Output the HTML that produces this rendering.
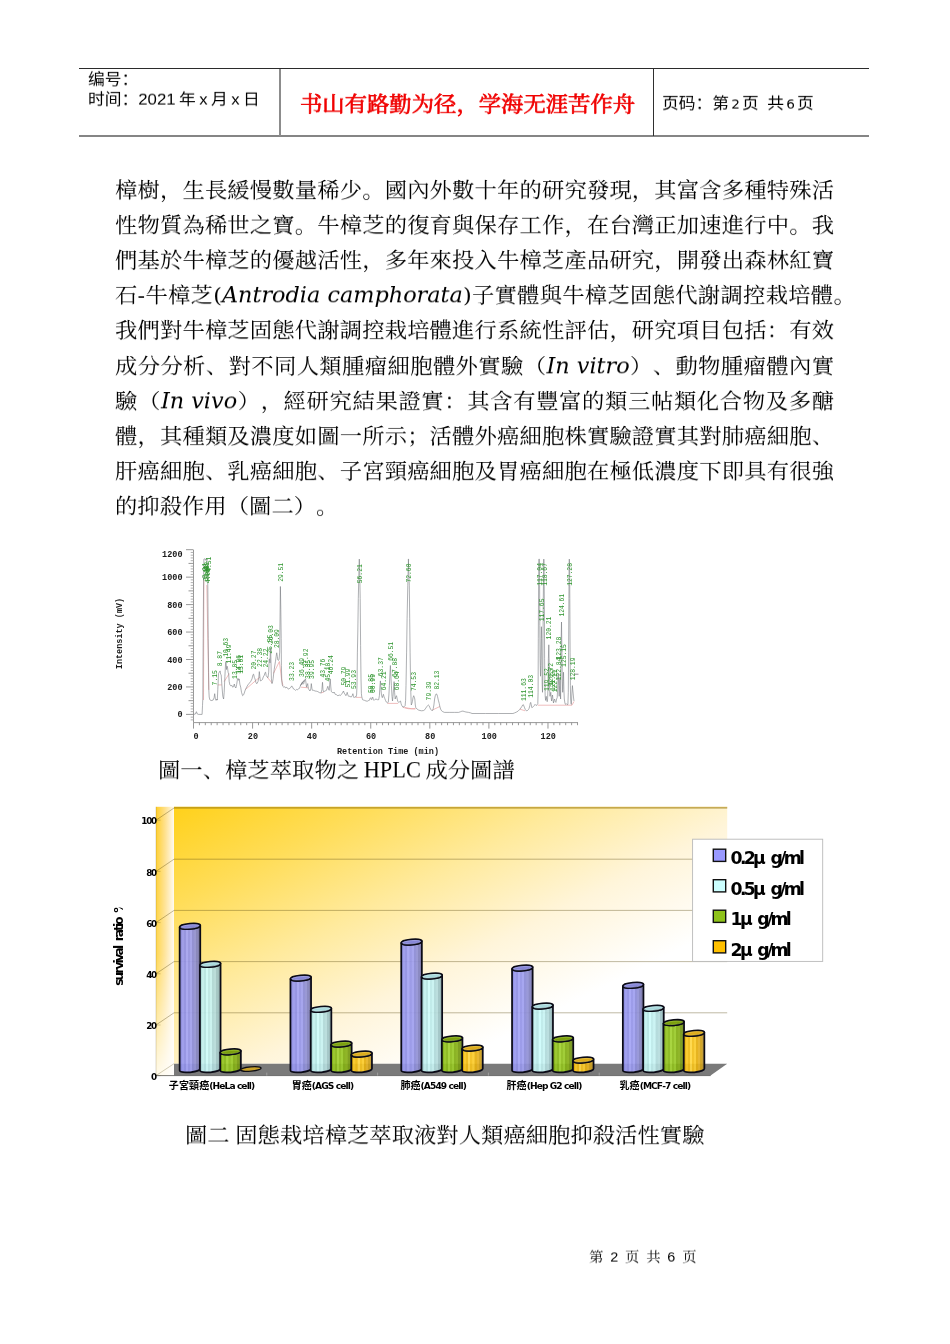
<!DOCTYPE html>
<html lang="zh">
<head>
<meta charset="utf-8">
<title>第2页</title>
<style>
html,body{margin:0;padding:0;background:#fff;}
body{width:950px;height:1344px;position:relative;overflow:hidden;color:#000;text-spacing-trim:space-all;font-kerning:none;
  font-family:"Liberation Serif","Noto Serif CJK SC",serif;}
.abs{position:absolute;white-space:nowrap;transform:scaleY(0.91);transform-origin:50% 50%;}
.hl{position:absolute;background:#000;}
.hd{font-family:"Liberation Sans","Noto Sans CJK SC",sans-serif;font-size:16.76px;line-height:18px;}
.red{font-family:"Liberation Serif","Noto Serif CJK SC",serif;font-weight:normal;color:#f00000;-webkit-text-stroke:0.75px #f00000;font-size:22.35px;line-height:30px;}
.ln{position:absolute;left:115px;width:719px;height:35px;line-height:35px;font-size:22.35px;
  font-family:"DejaVu Serif","Noto Serif CJK SC",serif;white-space:nowrap;text-align:justify;text-align-last:justify;transform:scaleY(0.91);transform-origin:50% 50%;}
.ln i{font-family:"DejaVu Serif",serif;font-style:italic;display:inline-block;transform:scaleY(1.099);transform-origin:50% 78%;}
.ln,.abs{will-change:transform;}
.dg{font-family:"DejaVu Sans",sans-serif;font-size:13.6px;margin:0 2.1px 0 2.3px;}
.cap{font-family:"Liberation Serif","Noto Serif CJK SC",serif;}
</style>
</head>
<body>
<!-- header -->
<div class="hl" style="left:79px;top:68px;width:790px;height:1px;background:#2b2b2b;"></div>
<div class="hl" style="left:79px;top:135px;width:790px;height:2px;background:#858585;"></div>
<div class="hl" style="left:279px;top:69px;width:2px;height:67px;background:#8c8c8c;"></div>
<div class="hl" style="left:653px;top:69px;width:1px;height:67px;background:#2f2f2f;"></div>
<div class="abs hd" style="left:88px;top:71px;">编号：</div>
<div class="abs hd" style="left:88px;top:90.7px;word-spacing:-1.2px;">时间：2021 年 x 月 x 日</div>
<div class="abs red" style="left:299.8px;top:90px;">书山有路勤为径，学海无涯苦作舟</div>
<div class="abs hd" style="left:662px;top:95px;">页码：第<span class="dg">2</span>页<span style="display:inline-block;width:8.3px"></span>共<span class="dg">6</span>页</div>

<!-- body text -->
<div class="ln" style="top:173.00px;">樟樹，生長緩慢數量稀少。國內外數十年的研究發現，其富含多種特殊活</div>
<div class="ln" style="top:208.12px;">性物質為稀世之寶。牛樟芝的復育與保存工作，在台灣正加速進行中。我</div>
<div class="ln" style="top:243.24px;">們基於牛樟芝的優越活性，多年來投入牛樟芝產品研究，開發出森林紅寶</div>
<div class="ln" style="top:278.36px;width:740.8px;">石-牛樟芝(<i>Antrodia camphorata</i>)子實體與牛樟芝固態代謝調控栽培體。</div>
<div class="ln" style="top:313.48px;">我們對牛樟芝固態代謝調控栽培體進行系統性評估，研究項目包括：有效</div>
<div class="ln" style="top:348.60px;">成分分析、對不同人類腫瘤細胞體外實驗（<i>In vitro</i>）、動物腫瘤體內實</div>
<div class="ln" style="top:383.72px;">驗（<i>In vivo</i>），經研究結果證實：其含有豐富的類三帖類化合物及多醣</div>
<div class="ln" style="top:418.84px;">體，其種類及濃度如圖一所示；活體外癌細胞株實驗證實其對肺癌細胞、</div>
<div class="ln" style="top:453.96px;">肝癌細胞、乳癌細胞、子宮頸癌細胞及胃癌細胞在極低濃度下即具有很強</div>
<div class="ln" style="top:489.08px;text-align-last:left;">的抑殺作用（圖二）。</div>

<!-- CHART1 -->
<svg class="abs0" style="position:absolute;left:100px;top:540px;will-change:transform;" width="500" height="220" viewBox="100 540 500 220">
<g stroke="#8c8c8c" stroke-width="0.9" fill="none" shape-rendering="auto">
<path d="M193.5 550 V722.6 H578"/>
<path d="M193.5 714.40h-7.5M193.5 700.67h-5.0M193.5 686.95h-7.5M193.5 673.23h-5.0M193.5 659.50h-7.5M193.5 645.77h-5.0M193.5 632.05h-7.5M193.5 618.32h-5.0M193.5 604.60h-7.5M193.5 590.88h-5.0M193.5 577.15h-7.5M193.5 563.42h-5.0M193.5 549.70h-7.5"/>
<path d="M193.5 719.89h-2.8M193.5 717.14h-2.8M193.5 711.65h-2.8M193.5 708.91h-2.8M193.5 706.16h-2.8M193.5 703.42h-2.8M193.5 697.93h-2.8M193.5 695.18h-2.8M193.5 692.44h-2.8M193.5 689.69h-2.8M193.5 684.20h-2.8M193.5 681.46h-2.8M193.5 678.71h-2.8M193.5 675.97h-2.8M193.5 670.48h-2.8M193.5 667.74h-2.8M193.5 664.99h-2.8M193.5 662.25h-2.8M193.5 656.75h-2.8M193.5 654.01h-2.8M193.5 651.26h-2.8M193.5 648.52h-2.8M193.5 643.03h-2.8M193.5 640.28h-2.8M193.5 637.54h-2.8M193.5 634.79h-2.8M193.5 629.30h-2.8M193.5 626.56h-2.8M193.5 623.81h-2.8M193.5 621.07h-2.8M193.5 615.58h-2.8M193.5 612.83h-2.8M193.5 610.09h-2.8M193.5 607.35h-2.8M193.5 601.86h-2.8M193.5 599.11h-2.8M193.5 596.37h-2.8M193.5 593.62h-2.8M193.5 588.13h-2.8M193.5 585.38h-2.8M193.5 582.64h-2.8M193.5 579.89h-2.8M193.5 574.40h-2.8M193.5 571.66h-2.8M193.5 568.91h-2.8M193.5 566.17h-2.8M193.5 560.68h-2.8M193.5 557.93h-2.8M193.5 555.19h-2.8M193.5 552.44h-2.8" stroke="#a6a6a6"/>
<path d="M193.50 722.6v6.0M199.41 722.6v2.6M205.32 722.6v2.6M211.22 722.6v2.6M217.13 722.6v2.6M223.04 722.6v2.6M228.95 722.6v2.6M234.86 722.6v2.6M240.76 722.6v2.6M246.67 722.6v2.6M252.58 722.6v6.0M258.49 722.6v2.6M264.40 722.6v2.6M270.30 722.6v2.6M276.21 722.6v2.6M282.12 722.6v2.6M288.03 722.6v2.6M293.94 722.6v2.6M299.84 722.6v2.6M305.75 722.6v2.6M311.66 722.6v6.0M317.57 722.6v2.6M323.48 722.6v2.6M329.38 722.6v2.6M335.29 722.6v2.6M341.20 722.6v2.6M347.11 722.6v2.6M353.02 722.6v2.6M358.92 722.6v2.6M364.83 722.6v2.6M370.74 722.6v6.0M376.65 722.6v2.6M382.56 722.6v2.6M388.46 722.6v2.6M394.37 722.6v2.6M400.28 722.6v2.6M406.19 722.6v2.6M412.10 722.6v2.6M418.00 722.6v2.6M423.91 722.6v2.6M429.82 722.6v6.0M435.73 722.6v2.6M441.64 722.6v2.6M447.54 722.6v2.6M453.45 722.6v2.6M459.36 722.6v2.6M465.27 722.6v2.6M471.18 722.6v2.6M477.08 722.6v2.6M482.99 722.6v2.6M488.90 722.6v6.0M494.81 722.6v2.6M500.72 722.6v2.6M506.62 722.6v2.6M512.53 722.6v2.6M518.44 722.6v2.6M524.35 722.6v2.6M530.26 722.6v2.6M536.16 722.6v2.6M542.07 722.6v2.6M547.98 722.6v6.0M553.89 722.6v2.6M559.80 722.6v2.6M565.70 722.6v2.6M571.61 722.6v2.6M577.52 722.6v2.6"/>
</g>
<g stroke="#eaa0a0" stroke-width="0.7" fill="none">
<polyline points="203.5,700.0 203.9,580.0"/>
<polyline points="206.8,585.0 208.8,690.0"/>
<polyline points="217.8,684.9 221.8,684.9"/>
<polyline points="224.2,681.6 229.2,673.6"/>
<polyline points="245.3,689.6 256.0,680.3 260.0,676.9"/>
<polyline points="267.0,676.9 272.0,682.9"/>
<polyline points="273.4,673.6 279.4,661.5 281.7,680.3 283.0,685.6"/>
<polyline points="301.0,687.2 308.4,687.8"/>
<polyline points="321.1,693.0 323.8,692.0"/>
<polyline points="355.9,697.4 361.6,697.4"/>
<polyline points="387.4,703.4 398.1,703.4"/>
<polyline points="402.8,707.3 408.2,708.7 415.0,708.9"/>
<polyline points="405.0,707.6 411.3,708.7 415.7,708.7"/>
<polyline points="432.5,710.0 440.1,706.4"/>
<polyline points="519.7,709.1 525.1,710.8"/>
<polyline points="537.8,705.2 572.0,705.2 574.0,701.4"/>
</g>
<polyline fill="none" stroke="#777b80" stroke-width="0.6" stroke-linejoin="round" points="193.7,714.4 195.4,714.0 196.4,711.7 197.3,714.0 198.4,714.4 202.1,714.4 202.5,705.7 202.8,699.0 203.2,638.7 203.6,578.5 203.9,559.1 205.1,558.8 205.9,560.4 206.4,558.8 207.2,561.1 207.8,585.2 208.2,638.7 208.6,672.2 208.8,689.6 209.2,697.0 209.8,699.7 211.1,700.6 213.1,700.1 214.1,697.7 214.7,693.7 215.4,699.0 216.1,700.4 216.9,699.0 217.3,700.1 217.8,689.6 218.5,673.6 219.3,672.2 220.1,670.9 220.6,674.2 221.2,674.9 221.8,684.3 222.8,696.3 223.6,699.0 224.2,692.3 224.9,676.2 225.6,662.9 226.0,661.5 226.5,669.5 227.1,666.2 227.6,668.2 228.1,672.2 228.7,674.2 229.2,681.6 229.9,684.9 230.8,685.9 231.9,685.4 232.7,687.2 233.5,686.7 234.3,684.0 235.0,687.0 235.9,688.0 236.7,684.3 237.5,678.9 238.0,678.3 238.6,680.3 239.2,678.9 239.9,684.3 240.7,687.2 241.5,692.3 242.6,695.7 243.7,694.7 245.3,689.9 246.6,687.2 247.9,684.9 249.3,683.2 250.6,681.6 252.0,678.9 253.0,674.6 253.6,674.2 254.4,677.6 255.0,678.9 256.0,682.9 256.9,683.7 258.0,681.6 258.8,677.6 259.3,671.6 259.9,676.9 260.4,680.9 261.3,680.5 262.4,679.6 263.3,676.9 264.3,675.2 265.1,672.5 265.6,672.2 266.2,675.6 267.0,676.9 268.0,677.6 268.7,672.2 269.2,659.5 269.6,658.8 270.0,662.9 270.3,652.1 270.6,648.1 271.0,662.9 271.4,678.9 272.0,683.6 272.6,681.6 273.1,678.9 273.7,673.6 274.2,669.5 274.9,664.9 275.5,661.2 276.1,656.8 276.7,652.8 277.3,656.2 277.8,659.9 278.5,660.4 279.1,659.1 279.7,652.1 280.1,612.0 280.4,586.5 280.8,609.3 281.2,638.7 281.4,665.5 281.7,678.9 282.2,684.3 282.8,686.3 283.8,687.2 284.8,686.7 285.7,688.0 286.8,687.2 287.9,688.8 288.8,689.1 289.9,688.0 290.8,687.5 291.7,685.9 292.5,687.0 293.5,689.0 294.5,689.4 295.5,690.4 296.6,689.4 297.5,689.9 298.6,688.6 299.5,688.3 300.4,685.9 301.2,684.3 302.0,682.9 302.9,681.6 303.7,682.1 304.2,680.3 300.4,685.6 301.0,684.9 301.7,683.2 302.4,682.3 303.0,684.3 303.7,683.6 304.4,680.9 305.4,678.9 306.0,682.9 306.5,687.2 307.2,684.9 307.7,683.6 308.3,688.3 309.1,689.9 310.0,691.0 310.8,689.0 311.3,683.6 311.9,688.3 312.4,690.3 313.7,690.4 315.1,691.0 316.4,691.2 317.8,691.6 319.4,692.6 321.1,693.0 321.9,689.6 322.5,682.3 323.0,689.6 323.5,691.8 325.1,691.0 326.5,690.3 327.1,688.3 327.8,686.3 328.5,689.0 329.2,690.3 329.7,684.3 330.2,678.9 330.8,687.0 331.3,691.6 332.2,692.3 333.2,693.0 334.1,692.0 335.2,694.3 336.5,694.7 337.9,695.8 339.2,695.0 340.3,695.5 341.2,694.7 342.4,693.0 343.5,691.0 344.1,693.0 344.8,693.9 345.9,695.7 346.7,693.7 347.2,692.3 347.9,695.0 348.6,696.3 349.9,696.3 351.2,697.1 352.2,695.7 352.9,693.7 353.5,696.6 354.1,697.7 355.0,696.6 355.9,697.1 356.6,695.0 357.0,685.6 357.4,652.1 357.8,632.0 358.3,598.6 358.9,571.8 359.3,559.1 359.7,571.8 360.2,598.6 360.6,645.4 361.0,678.9 361.4,693.7 361.8,697.0 362.6,699.7 363.6,700.1 364.6,700.4 366.0,701.0 367.3,701.2 368.4,700.6 369.3,700.4 370.1,698.3 370.7,697.7 371.2,699.3 371.7,699.7 372.3,697.7 372.7,697.0 373.3,699.3 374.0,700.4 375.1,699.3 376.0,699.0 377.4,699.7 378.7,699.7 379.4,695.7 379.9,687.0 380.4,680.9 381.0,689.6 381.5,695.3 382.3,697.7 382.9,695.7 383.4,694.3 384.1,697.0 384.7,698.3 385.5,700.4 386.3,702.0 387.4,703.0 388.3,702.0 388.9,695.0 389.4,685.6 390.0,672.2 390.4,665.5 390.9,676.2 391.4,685.6 392.0,696.3 392.5,701.0 393.0,696.3 393.6,688.3 394.1,681.6 394.6,692.3 395.2,699.0 395.8,697.0 396.5,695.7 397.2,699.0 397.9,701.7 398.8,702.4 399.7,701.7 400.5,701.0 401.1,703.7 401.6,705.2 402.8,707.0 404.1,706.8 405.1,705.7 405.6,700.4 406.0,685.6 406.6,652.1 407.1,618.7 407.8,585.2 408.2,569.1 408.6,559.1 408.3,559.1 408.7,569.1 409.3,585.2 409.7,618.7 410.1,652.1 410.5,678.9 410.8,692.3 411.3,705.0 411.8,703.7 412.4,701.7 413.0,697.7 413.7,695.7 414.2,697.0 414.8,699.0 415.3,705.0 415.8,707.7 417.1,709.1 418.4,710.0 420.0,710.5 421.7,710.8 423.7,710.5 424.8,709.7 425.8,708.1 426.7,706.8 427.8,705.4 428.4,705.0 429.1,705.7 429.9,707.7 430.7,709.5 431.8,710.4 432.6,710.5 433.3,708.4 433.9,705.0 434.6,699.0 435.3,695.7 436.1,693.9 436.9,694.3 437.5,696.3 438.3,700.1 439.2,703.3 439.8,706.4 440.6,709.1 441.6,710.8 442.8,711.7 444.5,712.4 449.2,712.4 454.6,712.4 458.6,712.4 460.6,711.7 461.9,711.2 463.0,711.1 464.2,711.5 465.9,712.0 468.6,712.4 470.6,712.9 472.0,713.5 485.4,713.5 498.7,713.5 512.1,713.5 513.0,713.5 514.6,712.9 516.4,712.1 518.1,711.1 519.5,709.7 520.8,708.1 521.9,706.4 522.7,705.0 523.3,704.6 523.9,706.0 524.6,707.8 525.4,709.7 526.4,710.8 527.5,710.5 528.3,709.7 529.1,708.4 529.8,705.7 530.3,703.0 530.7,702.4 531.2,704.4 531.8,707.6 532.6,707.3 533.4,706.5 534.2,705.7 535.0,704.4 535.8,705.2 536.6,705.4 537.3,704.4 537.8,703.7 538.1,692.3 538.3,638.7 538.6,585.2 538.9,559.1 539.3,559.1 539.6,585.2 539.8,625.4 540.1,658.8 540.5,676.2 540.8,665.5 541.2,638.7 541.4,626.7 541.7,638.7 542.0,665.5 542.2,684.3 542.5,692.3 542.8,678.9 543.0,638.7 543.3,598.6 543.6,571.8 543.8,559.1 544.1,571.8 544.4,612.0 544.6,658.8 544.9,685.6 545.2,696.3 545.6,700.4 546.0,697.7 546.2,696.3 546.6,699.0 547.2,701.7 547.6,699.0 548.0,685.6 548.4,658.8 548.8,644.8 549.2,665.5 549.6,689.6 550.0,696.3 550.4,693.7 550.8,692.3 551.2,697.7 551.6,701.0 552.1,697.0 552.5,695.0 553.1,700.4 553.5,703.0 554.0,700.4 554.6,699.0 555.2,701.4 555.9,702.4 556.6,699.0 557.2,697.7 557.6,689.6 558.0,678.9 558.3,673.6 558.7,685.6 559.2,696.3 559.6,685.6 559.9,678.9 560.2,689.6 560.6,699.0 560.8,678.9 561.1,645.4 561.5,622.0 561.9,652.1 562.3,678.9 562.7,692.3 563.1,681.6 563.5,672.2 563.9,689.6 564.3,699.0 564.9,703.0 565.5,704.4 566.3,703.7 567.1,704.6 567.9,704.4 568.3,692.3 568.6,652.1 568.9,598.6 569.1,565.1 569.3,559.1 569.6,565.1 569.8,598.6 570.1,652.1 570.4,685.6 570.6,699.0 571.0,703.7 571.4,704.4 571.8,695.0 572.4,685.6 572.9,691.0 573.3,695.0 573.7,699.0 574.0,701.0"/>
<path d="M574 674.2h4.5" stroke="#777" stroke-width="0.8"/>
<g font-family="'Liberation Mono','DejaVu Sans Mono',monospace" font-weight="bold" font-size="8.5" fill="#1a1a1a">
<text x="182.5" y="557.3" text-anchor="end">1200</text>
<text x="182.5" y="580.2" text-anchor="end">1000</text>
<text x="182.5" y="607.7" text-anchor="end">800</text>
<text x="182.5" y="635.1" text-anchor="end">600</text>
<text x="182.5" y="662.5" text-anchor="end">400</text>
<text x="182.5" y="689.9" text-anchor="end">200</text>
<text x="182.5" y="717.3" text-anchor="end">0</text>
<text x="196.0" y="739" text-anchor="middle">0</text>
<text x="252.9" y="739" text-anchor="middle">20</text>
<text x="311.9" y="739" text-anchor="middle">40</text>
<text x="371.0" y="739" text-anchor="middle">60</text>
<text x="430.2" y="739" text-anchor="middle">80</text>
<text x="489.2" y="739" text-anchor="middle">100</text>
<text x="548.2" y="739" text-anchor="middle">120</text>
<text x="388" y="753.5" text-anchor="middle" font-size="8.5">Retention Time (min)</text>
<text transform="translate(122.3,633.5) rotate(-90)" text-anchor="middle" font-size="8.5">Intensity (mV)</text>
</g>
<g font-family="'Liberation Mono','DejaVu Sans Mono',monospace" font-size="7.9" fill="#2c942c">
<text transform="translate(207.2,578.5) rotate(-90) scale(0.8,1)">3.24</text>
<text transform="translate(207.7,580.9) rotate(-90) scale(0.8,1)">3.41</text>
<text transform="translate(208.5,577.1) rotate(-90) scale(0.8,1)">3.62</text>
<text transform="translate(209.0,580.1) rotate(-90) scale(0.8,1)">3.88</text>
<text transform="translate(209.8,583.2) rotate(-90) scale(0.8,1)">4.09</text>
<text transform="translate(210.6,571.8) rotate(-90) scale(0.8,1)">4.51</text>
<text transform="translate(217.3,685.4) rotate(-90) scale(0.8,1)">7.15</text>
<text transform="translate(222.2,666.2) rotate(-90) scale(0.8,1)">8.87</text>
<text transform="translate(228.4,656.8) rotate(-90) scale(0.8,1)">10.63</text>
<text transform="translate(230.5,663.5) rotate(-90) scale(0.8,1)">11.49</text>
<text transform="translate(236.9,678.9) rotate(-90) scale(0.8,1)">13.85</text>
<text transform="translate(240.5,673.8) rotate(-90) scale(0.8,1)">14.96</text>
<text transform="translate(242.5,673.8) rotate(-90) scale(0.8,1)">15.61</text>
<text transform="translate(255.9,669.5) rotate(-90) scale(0.8,1)">20.27</text>
<text transform="translate(261.9,666.9) rotate(-90) scale(0.8,1)">22.38</text>
<text transform="translate(268.0,667.5) rotate(-90) scale(0.8,1)">24.22</text>
<text transform="translate(271.7,653.7) rotate(-90) scale(0.8,1)">25.55</text>
<text transform="translate(273.3,644.1) rotate(-90) scale(0.8,1)">26.03</text>
<text transform="translate(279.3,648.1) rotate(-90) scale(0.8,1)">28.09</text>
<text transform="translate(283.4,581.8) rotate(-90) scale(0.8,1)">29.51</text>
<text transform="translate(294.3,680.9) rotate(-90) scale(0.8,1)">33.23</text>
<text transform="translate(303.6,676.9) rotate(-90) scale(0.8,1)">36.49</text>
<text transform="translate(308.3,667.5) rotate(-90) scale(0.8,1)">37.92</text>
<text transform="translate(309.9,678.9) rotate(-90) scale(0.8,1)">38.35</text>
<text transform="translate(314.3,678.9) rotate(-90) scale(0.8,1)">39.95</text>
<text transform="translate(325.1,677.6) rotate(-90) scale(0.8,1)">43.76</text>
<text transform="translate(330.4,681.6) rotate(-90) scale(0.8,1)">45.18</text>
<text transform="translate(333.1,674.2) rotate(-90) scale(0.8,1)">46.24</text>
<text transform="translate(346.1,685.6) rotate(-90) scale(0.8,1)">50.79</text>
<text transform="translate(349.6,687.6) rotate(-90) scale(0.8,1)">51.99</text>
<text transform="translate(355.5,689.0) rotate(-90) scale(0.8,1)">53.93</text>
<text transform="translate(361.9,583.2) rotate(-90) scale(0.8,1)">56.21</text>
<text transform="translate(372.6,693.0) rotate(-90) scale(0.8,1)">59.85</text>
<text transform="translate(375.3,693.0) rotate(-90) scale(0.8,1)">60.99</text>
<text transform="translate(383.3,676.2) rotate(-90) scale(0.8,1)">63.37</text>
<text transform="translate(386.3,690.3) rotate(-90) scale(0.8,1)">64.21</text>
<text transform="translate(392.7,660.8) rotate(-90) scale(0.8,1)">66.51</text>
<text transform="translate(396.7,676.9) rotate(-90) scale(0.8,1)">67.88</text>
<text transform="translate(399.4,690.3) rotate(-90) scale(0.8,1)">68.64</text>
<text transform="translate(410.8,582.5) rotate(-90) scale(0.8,1)">72.60</text>
<text transform="translate(416.3,691.0) rotate(-90) scale(0.8,1)">74.53</text>
<text transform="translate(430.6,700.4) rotate(-90) scale(0.8,1)">79.39</text>
<text transform="translate(439.1,689.6) rotate(-90) scale(0.8,1)">82.13</text>
<text transform="translate(525.9,701.0) rotate(-90) scale(0.8,1)">111.63</text>
<text transform="translate(533.3,697.7) rotate(-90) scale(0.8,1)">114.03</text>
<text transform="translate(541.5,585.8) rotate(-90) scale(0.8,1)">117.04</text>
<text transform="translate(544.0,621.3) rotate(-90) scale(0.8,1)">117.65</text>
<text transform="translate(546.7,585.8) rotate(-90) scale(0.8,1)">118.67</text>
<text transform="translate(548.8,691.0) rotate(-90) scale(0.8,1)">119.52</text>
<text transform="translate(551.4,639.4) rotate(-90) scale(0.8,1)">120.21</text>
<text transform="translate(553.1,685.6) rotate(-90) scale(0.8,1)">120.72</text>
<text transform="translate(554.7,691.0) rotate(-90) scale(0.8,1)">121.27</text>
<text transform="translate(556.5,692.3) rotate(-90) scale(0.8,1)">122.11</text>
<text transform="translate(560.6,680.3) rotate(-90) scale(0.8,1)">122.84</text>
<text transform="translate(561.2,659.5) rotate(-90) scale(0.8,1)">123.28</text>
<text transform="translate(564.1,616.6) rotate(-90) scale(0.8,1)">124.61</text>
<text transform="translate(566.1,666.9) rotate(-90) scale(0.8,1)">125.15</text>
<text transform="translate(571.9,585.8) rotate(-90) scale(0.8,1)">127.28</text>
<text transform="translate(575.0,680.3) rotate(-90) scale(0.8,1)">128.19</text>
</g>
</svg>
<!-- /CHART1 -->

<div class="abs cap" style="left:158px;top:756px;font-size:22.35px;line-height:30px;word-spacing:-1px;">圖一、樟芝萃取物之 <span style="display:inline-block;transform:scaleY(1.099);transform-origin:50% 78%;">HPLC</span> 成分圖譜</div>

<!-- CHART2 -->
<svg style="position:absolute;left:100px;top:795px;will-change:transform;" width="740" height="305" viewBox="100 795 740 305">
<defs>
<linearGradient id="bw" x1="0" y1="0" x2="0.7671" y2="0.7123"><stop offset="0" stop-color="#ffd11a"/><stop offset="0.25" stop-color="#ffdd58"/><stop offset="0.5" stop-color="#ffea9c"/><stop offset="0.75" stop-color="#fff5da"/><stop offset="1" stop-color="#ffffff"/></linearGradient>
<linearGradient id="sw" x1="0" y1="0" x2="1" y2="0"><stop offset="0" stop-color="#ffce28"/><stop offset="0.5" stop-color="#ffe08a"/><stop offset="1" stop-color="#fffaf0"/></linearGradient>
<linearGradient id="swv" x1="0" y1="0" x2="0" y2="1"><stop offset="0" stop-color="#fff" stop-opacity="0"/><stop offset="0.55" stop-color="#fff" stop-opacity="0.18"/><stop offset="1" stop-color="#fff" stop-opacity="0.9"/></linearGradient>
<linearGradient id="gp" x1="0" y1="0" x2="1" y2="0"><stop offset="0.000" stop-color="#8a8ae2"/><stop offset="0.096" stop-color="#8a8ae2"/><stop offset="0.104" stop-color="#9999ef"/><stop offset="0.196" stop-color="#9999ef"/><stop offset="0.204" stop-color="#9090e6"/><stop offset="0.296" stop-color="#9090e6"/><stop offset="0.304" stop-color="#a4a4f6"/><stop offset="0.396" stop-color="#a4a4f6"/><stop offset="0.404" stop-color="#9595e8"/><stop offset="0.496" stop-color="#9595e8"/><stop offset="0.504" stop-color="#a0a0f0"/><stop offset="0.596" stop-color="#a0a0f0"/><stop offset="0.604" stop-color="#8c8cd8"/><stop offset="0.696" stop-color="#8c8cd8"/><stop offset="0.704" stop-color="#9292d6"/><stop offset="0.796" stop-color="#9292d6"/><stop offset="0.804" stop-color="#8282c0"/><stop offset="0.896" stop-color="#8282c0"/><stop offset="0.904" stop-color="#7a78ae"/><stop offset="1.000" stop-color="#7a78ae"/></linearGradient>
<linearGradient id="gc" x1="0" y1="0" x2="1" y2="0"><stop offset="0.000" stop-color="#aedede"/><stop offset="0.096" stop-color="#aedede"/><stop offset="0.104" stop-color="#c2f0f0"/><stop offset="0.196" stop-color="#c2f0f0"/><stop offset="0.204" stop-color="#b6e6e6"/><stop offset="0.296" stop-color="#b6e6e6"/><stop offset="0.304" stop-color="#cefcfc"/><stop offset="0.396" stop-color="#cefcfc"/><stop offset="0.404" stop-color="#bdeaea"/><stop offset="0.496" stop-color="#bdeaea"/><stop offset="0.504" stop-color="#c8f3f3"/><stop offset="0.596" stop-color="#c8f3f3"/><stop offset="0.604" stop-color="#b0d9da"/><stop offset="0.696" stop-color="#b0d9da"/><stop offset="0.704" stop-color="#b6dcdd"/><stop offset="0.796" stop-color="#b6dcdd"/><stop offset="0.804" stop-color="#9fc4c6"/><stop offset="0.896" stop-color="#9fc4c6"/><stop offset="0.904" stop-color="#94b4b7"/><stop offset="1.000" stop-color="#94b4b7"/></linearGradient>
<linearGradient id="gg" x1="0" y1="0" x2="1" y2="0"><stop offset="0.000" stop-color="#80ae10"/><stop offset="0.096" stop-color="#80ae10"/><stop offset="0.104" stop-color="#94c422"/><stop offset="0.196" stop-color="#94c422"/><stop offset="0.204" stop-color="#88b818"/><stop offset="0.296" stop-color="#88b818"/><stop offset="0.304" stop-color="#a2d232"/><stop offset="0.396" stop-color="#a2d232"/><stop offset="0.404" stop-color="#8fbe1e"/><stop offset="0.496" stop-color="#8fbe1e"/><stop offset="0.504" stop-color="#9aca2a"/><stop offset="0.596" stop-color="#9aca2a"/><stop offset="0.604" stop-color="#82ae14"/><stop offset="0.696" stop-color="#82ae14"/><stop offset="0.704" stop-color="#88b01a"/><stop offset="0.796" stop-color="#88b01a"/><stop offset="0.804" stop-color="#769912"/><stop offset="0.896" stop-color="#769912"/><stop offset="0.904" stop-color="#70901c"/><stop offset="1.000" stop-color="#70901c"/></linearGradient>
<linearGradient id="go" x1="0" y1="0" x2="1" y2="0"><stop offset="0.000" stop-color="#eab208"/><stop offset="0.096" stop-color="#eab208"/><stop offset="0.104" stop-color="#f9c722"/><stop offset="0.196" stop-color="#f9c722"/><stop offset="0.204" stop-color="#efba12"/><stop offset="0.296" stop-color="#efba12"/><stop offset="0.304" stop-color="#ffd744"/><stop offset="0.396" stop-color="#ffd744"/><stop offset="0.404" stop-color="#f3c01c"/><stop offset="0.496" stop-color="#f3c01c"/><stop offset="0.504" stop-color="#fbcc2e"/><stop offset="0.596" stop-color="#fbcc2e"/><stop offset="0.604" stop-color="#e4ae10"/><stop offset="0.696" stop-color="#e4ae10"/><stop offset="0.704" stop-color="#e6b224"/><stop offset="0.796" stop-color="#e6b224"/><stop offset="0.804" stop-color="#cfa01a"/><stop offset="0.896" stop-color="#cfa01a"/><stop offset="0.904" stop-color="#c2992c"/><stop offset="1.000" stop-color="#c2992c"/></linearGradient>
<linearGradient id="fl" gradientUnits="userSpaceOnUse" x1="0" y1="1063.2" x2="0" y2="1078.6"><stop offset="0" stop-color="#000" stop-opacity="0"/><stop offset="0.02" stop-color="#000" stop-opacity="0.11"/><stop offset="1" stop-color="#000" stop-opacity="0.11"/></linearGradient>
</defs>
<rect x="156.0" y="806.8" width="18.0" height="268.8" fill="url(#sw)"/>
<rect x="156.0" y="806.8" width="18.0" height="268.8" fill="url(#swv)"/>
<rect x="174.0" y="806.8" width="553.2" height="256.9" fill="url(#bw)"/>
<rect x="174.0" y="806.8" width="553.2" height="1.6" fill="#c89a10" opacity="0.55"/>
<g stroke="#5a4a12" stroke-opacity="0.55" stroke-width="0.7" fill="none">
<path d="M156.0 820.2L174.0 808.0H727.2"/>
<path d="M156.0 820.2h4.6" stroke-opacity="0.35"/>
<path d="M156.0 871.4L174.0 859.2H727.2"/>
<path d="M156.0 871.4h4.6" stroke-opacity="0.35"/>
<path d="M156.0 922.6L174.0 910.4H727.2"/>
<path d="M156.0 922.6h4.6" stroke-opacity="0.35"/>
<path d="M156.0 973.8L174.0 961.6H727.2"/>
<path d="M156.0 973.8h4.6" stroke-opacity="0.35"/>
<path d="M156.0 1025.0L174.0 1012.8H727.2"/>
<path d="M156.0 1025.0h4.6" stroke-opacity="0.35"/>
<path d="M156.0 1075.6L174.0 1063.7" stroke-opacity="0.4"/>
<path d="M156.0 1075.6h4.6" stroke-opacity="0.35"/>
<path d="M156.0 806.8V1075.6" stroke-opacity="0.3"/>
</g>
<path d="M174.0 1063.7H727.2L710.6 1075.6H174.0Z" fill="#7a7a7a"/>
<path d="M156.0 1075.6H710.6" stroke="#555" stroke-width="0.8"/>
<path d="M266.8 1075.6v-3M377.6 1075.6v-3M488.4 1075.6v-3M599.2 1075.6v-3" stroke="#a8a8a8" stroke-width="0.8"/>
<path d="M179.65 927.20A10.34 2.70 -5 0 0 200.25 925.40V1068.70A10.34 2.70 -5 0 1 179.65 1070.50Z" fill="url(#gp)" fill-opacity="0.93" stroke="#0a0a16" stroke-width="1.75" stroke-linejoin="round"/>
<ellipse cx="189.95" cy="926.30" rx="10.34" ry="2.70" transform="rotate(-5 189.95 926.30)" fill="#8787d6" stroke="#0a0a16" stroke-width="1.75"/>
<ellipse cx="189.95" cy="926.50" rx="9.04" ry="1.60" transform="rotate(-5 189.95 926.30)" fill="none" stroke="#b5b5f4" stroke-width="0.7" opacity="0.8"/>
<path d="M199.95 965.20A10.34 2.70 -5 0 0 220.55 963.40V1068.70A10.34 2.70 -5 0 1 199.95 1070.50Z" fill="url(#gc)" fill-opacity="0.93" stroke="#0a0a16" stroke-width="1.75" stroke-linejoin="round"/>
<ellipse cx="210.25" cy="964.30" rx="10.34" ry="2.70" transform="rotate(-5 210.25 964.30)" fill="#a9d9dd" stroke="#0a0a16" stroke-width="1.75"/>
<ellipse cx="210.25" cy="964.50" rx="9.04" ry="1.60" transform="rotate(-5 210.25 964.30)" fill="none" stroke="#d5f6f6" stroke-width="0.7" opacity="0.8"/>
<path d="M220.25 1052.70A10.34 2.70 -5 0 0 240.85 1050.90V1068.70A10.34 2.70 -5 0 1 220.25 1070.50Z" fill="url(#gg)" fill-opacity="0.93" stroke="#0a0a16" stroke-width="1.75" stroke-linejoin="round"/>
<ellipse cx="230.55" cy="1051.80" rx="10.34" ry="2.70" transform="rotate(-5 230.55 1051.80)" fill="#7c9f0f" stroke="#0a0a16" stroke-width="1.75"/>
<ellipse cx="230.55" cy="1052.00" rx="9.04" ry="1.60" transform="rotate(-5 230.55 1051.80)" fill="none" stroke="#a6cf3e" stroke-width="0.7" opacity="0.8"/>
<ellipse cx="250.85" cy="1069.00" rx="10.30" ry="2.20" transform="rotate(-5 250.85 1069.00)" fill="#c9a128" stroke="#0c0c14" stroke-width="1.3"/>
<path d="M290.45 978.90A10.34 2.70 -5 0 0 311.05 977.10V1068.70A10.34 2.70 -5 0 1 290.45 1070.50Z" fill="url(#gp)" fill-opacity="0.93" stroke="#0a0a16" stroke-width="1.75" stroke-linejoin="round"/>
<ellipse cx="300.75" cy="978.00" rx="10.34" ry="2.70" transform="rotate(-5 300.75 978.00)" fill="#8787d6" stroke="#0a0a16" stroke-width="1.75"/>
<ellipse cx="300.75" cy="978.20" rx="9.04" ry="1.60" transform="rotate(-5 300.75 978.00)" fill="none" stroke="#b5b5f4" stroke-width="0.7" opacity="0.8"/>
<path d="M310.75 1010.10A10.34 2.70 -5 0 0 331.35 1008.30V1068.70A10.34 2.70 -5 0 1 310.75 1070.50Z" fill="url(#gc)" fill-opacity="0.93" stroke="#0a0a16" stroke-width="1.75" stroke-linejoin="round"/>
<ellipse cx="321.05" cy="1009.20" rx="10.34" ry="2.70" transform="rotate(-5 321.05 1009.20)" fill="#a9d9dd" stroke="#0a0a16" stroke-width="1.75"/>
<ellipse cx="321.05" cy="1009.40" rx="9.04" ry="1.60" transform="rotate(-5 321.05 1009.20)" fill="none" stroke="#d5f6f6" stroke-width="0.7" opacity="0.8"/>
<path d="M331.05 1044.90A10.34 2.70 -5 0 0 351.65 1043.10V1068.70A10.34 2.70 -5 0 1 331.05 1070.50Z" fill="url(#gg)" fill-opacity="0.93" stroke="#0a0a16" stroke-width="1.75" stroke-linejoin="round"/>
<ellipse cx="341.35" cy="1044.00" rx="10.34" ry="2.70" transform="rotate(-5 341.35 1044.00)" fill="#7c9f0f" stroke="#0a0a16" stroke-width="1.75"/>
<ellipse cx="341.35" cy="1044.20" rx="9.04" ry="1.60" transform="rotate(-5 341.35 1044.00)" fill="none" stroke="#a6cf3e" stroke-width="0.7" opacity="0.8"/>
<path d="M351.35 1054.90A10.34 2.70 -5 0 0 371.95 1053.10V1068.70A10.34 2.70 -5 0 1 351.35 1070.50Z" fill="url(#go)" fill-opacity="0.93" stroke="#0a0a16" stroke-width="1.75" stroke-linejoin="round"/>
<ellipse cx="361.65" cy="1054.00" rx="10.34" ry="2.70" transform="rotate(-5 361.65 1054.00)" fill="#dcab1c" stroke="#0a0a16" stroke-width="1.75"/>
<ellipse cx="361.65" cy="1054.20" rx="9.04" ry="1.60" transform="rotate(-5 361.65 1054.00)" fill="none" stroke="#f7d254" stroke-width="0.7" opacity="0.8"/>
<path d="M401.25 942.90A10.34 2.70 -5 0 0 421.85 941.10V1068.70A10.34 2.70 -5 0 1 401.25 1070.50Z" fill="url(#gp)" fill-opacity="0.93" stroke="#0a0a16" stroke-width="1.75" stroke-linejoin="round"/>
<ellipse cx="411.55" cy="942.00" rx="10.34" ry="2.70" transform="rotate(-5 411.55 942.00)" fill="#8787d6" stroke="#0a0a16" stroke-width="1.75"/>
<ellipse cx="411.55" cy="942.20" rx="9.04" ry="1.60" transform="rotate(-5 411.55 942.00)" fill="none" stroke="#b5b5f4" stroke-width="0.7" opacity="0.8"/>
<path d="M421.55 976.90A10.34 2.70 -5 0 0 442.15 975.10V1068.70A10.34 2.70 -5 0 1 421.55 1070.50Z" fill="url(#gc)" fill-opacity="0.93" stroke="#0a0a16" stroke-width="1.75" stroke-linejoin="round"/>
<ellipse cx="431.85" cy="976.00" rx="10.34" ry="2.70" transform="rotate(-5 431.85 976.00)" fill="#a9d9dd" stroke="#0a0a16" stroke-width="1.75"/>
<ellipse cx="431.85" cy="976.20" rx="9.04" ry="1.60" transform="rotate(-5 431.85 976.00)" fill="none" stroke="#d5f6f6" stroke-width="0.7" opacity="0.8"/>
<path d="M441.85 1039.70A10.34 2.70 -5 0 0 462.45 1037.90V1068.70A10.34 2.70 -5 0 1 441.85 1070.50Z" fill="url(#gg)" fill-opacity="0.93" stroke="#0a0a16" stroke-width="1.75" stroke-linejoin="round"/>
<ellipse cx="452.15" cy="1038.80" rx="10.34" ry="2.70" transform="rotate(-5 452.15 1038.80)" fill="#7c9f0f" stroke="#0a0a16" stroke-width="1.75"/>
<ellipse cx="452.15" cy="1039.00" rx="9.04" ry="1.60" transform="rotate(-5 452.15 1038.80)" fill="none" stroke="#a6cf3e" stroke-width="0.7" opacity="0.8"/>
<path d="M462.15 1048.90A10.34 2.70 -5 0 0 482.75 1047.10V1068.70A10.34 2.70 -5 0 1 462.15 1070.50Z" fill="url(#go)" fill-opacity="0.93" stroke="#0a0a16" stroke-width="1.75" stroke-linejoin="round"/>
<ellipse cx="472.45" cy="1048.00" rx="10.34" ry="2.70" transform="rotate(-5 472.45 1048.00)" fill="#dcab1c" stroke="#0a0a16" stroke-width="1.75"/>
<ellipse cx="472.45" cy="1048.20" rx="9.04" ry="1.60" transform="rotate(-5 472.45 1048.00)" fill="none" stroke="#f7d254" stroke-width="0.7" opacity="0.8"/>
<path d="M512.05 968.90A10.34 2.70 -5 0 0 532.65 967.10V1068.70A10.34 2.70 -5 0 1 512.05 1070.50Z" fill="url(#gp)" fill-opacity="0.93" stroke="#0a0a16" stroke-width="1.75" stroke-linejoin="round"/>
<ellipse cx="522.35" cy="968.00" rx="10.34" ry="2.70" transform="rotate(-5 522.35 968.00)" fill="#8787d6" stroke="#0a0a16" stroke-width="1.75"/>
<ellipse cx="522.35" cy="968.20" rx="9.04" ry="1.60" transform="rotate(-5 522.35 968.00)" fill="none" stroke="#b5b5f4" stroke-width="0.7" opacity="0.8"/>
<path d="M532.35 1006.90A10.34 2.70 -5 0 0 552.95 1005.10V1068.70A10.34 2.70 -5 0 1 532.35 1070.50Z" fill="url(#gc)" fill-opacity="0.93" stroke="#0a0a16" stroke-width="1.75" stroke-linejoin="round"/>
<ellipse cx="542.65" cy="1006.00" rx="10.34" ry="2.70" transform="rotate(-5 542.65 1006.00)" fill="#a9d9dd" stroke="#0a0a16" stroke-width="1.75"/>
<ellipse cx="542.65" cy="1006.20" rx="9.04" ry="1.60" transform="rotate(-5 542.65 1006.00)" fill="none" stroke="#d5f6f6" stroke-width="0.7" opacity="0.8"/>
<path d="M552.65 1039.70A10.34 2.70 -5 0 0 573.25 1037.90V1068.70A10.34 2.70 -5 0 1 552.65 1070.50Z" fill="url(#gg)" fill-opacity="0.93" stroke="#0a0a16" stroke-width="1.75" stroke-linejoin="round"/>
<ellipse cx="562.95" cy="1038.80" rx="10.34" ry="2.70" transform="rotate(-5 562.95 1038.80)" fill="#7c9f0f" stroke="#0a0a16" stroke-width="1.75"/>
<ellipse cx="562.95" cy="1039.00" rx="9.04" ry="1.60" transform="rotate(-5 562.95 1038.80)" fill="none" stroke="#a6cf3e" stroke-width="0.7" opacity="0.8"/>
<path d="M572.95 1060.90A10.34 2.70 -5 0 0 593.55 1059.10V1068.70A10.34 2.70 -5 0 1 572.95 1070.50Z" fill="url(#go)" fill-opacity="0.93" stroke="#0a0a16" stroke-width="1.75" stroke-linejoin="round"/>
<ellipse cx="583.25" cy="1060.00" rx="10.34" ry="2.70" transform="rotate(-5 583.25 1060.00)" fill="#dcab1c" stroke="#0a0a16" stroke-width="1.75"/>
<ellipse cx="583.25" cy="1060.20" rx="9.04" ry="1.60" transform="rotate(-5 583.25 1060.00)" fill="none" stroke="#f7d254" stroke-width="0.7" opacity="0.8"/>
<path d="M622.85 986.20A10.34 2.70 -5 0 0 643.45 984.40V1068.70A10.34 2.70 -5 0 1 622.85 1070.50Z" fill="url(#gp)" fill-opacity="0.93" stroke="#0a0a16" stroke-width="1.75" stroke-linejoin="round"/>
<ellipse cx="633.15" cy="985.30" rx="10.34" ry="2.70" transform="rotate(-5 633.15 985.30)" fill="#8787d6" stroke="#0a0a16" stroke-width="1.75"/>
<ellipse cx="633.15" cy="985.50" rx="9.04" ry="1.60" transform="rotate(-5 633.15 985.30)" fill="none" stroke="#b5b5f4" stroke-width="0.7" opacity="0.8"/>
<path d="M643.15 1009.20A10.34 2.70 -5 0 0 663.75 1007.40V1068.70A10.34 2.70 -5 0 1 643.15 1070.50Z" fill="url(#gc)" fill-opacity="0.93" stroke="#0a0a16" stroke-width="1.75" stroke-linejoin="round"/>
<ellipse cx="653.45" cy="1008.30" rx="10.34" ry="2.70" transform="rotate(-5 653.45 1008.30)" fill="#a9d9dd" stroke="#0a0a16" stroke-width="1.75"/>
<ellipse cx="653.45" cy="1008.50" rx="9.04" ry="1.60" transform="rotate(-5 653.45 1008.30)" fill="none" stroke="#d5f6f6" stroke-width="0.7" opacity="0.8"/>
<path d="M663.45 1023.50A10.34 2.70 -5 0 0 684.05 1021.70V1068.70A10.34 2.70 -5 0 1 663.45 1070.50Z" fill="url(#gg)" fill-opacity="0.93" stroke="#0a0a16" stroke-width="1.75" stroke-linejoin="round"/>
<ellipse cx="673.75" cy="1022.60" rx="10.34" ry="2.70" transform="rotate(-5 673.75 1022.60)" fill="#7c9f0f" stroke="#0a0a16" stroke-width="1.75"/>
<ellipse cx="673.75" cy="1022.80" rx="9.04" ry="1.60" transform="rotate(-5 673.75 1022.60)" fill="none" stroke="#a6cf3e" stroke-width="0.7" opacity="0.8"/>
<path d="M683.75 1034.10A10.34 2.70 -5 0 0 704.35 1032.30V1068.70A10.34 2.70 -5 0 1 683.75 1070.50Z" fill="url(#go)" fill-opacity="0.93" stroke="#0a0a16" stroke-width="1.75" stroke-linejoin="round"/>
<ellipse cx="694.05" cy="1033.20" rx="10.34" ry="2.70" transform="rotate(-5 694.05 1033.20)" fill="#dcab1c" stroke="#0a0a16" stroke-width="1.75"/>
<ellipse cx="694.05" cy="1033.40" rx="9.04" ry="1.60" transform="rotate(-5 694.05 1033.20)" fill="none" stroke="#f7d254" stroke-width="0.7" opacity="0.8"/>
<g font-family="'DejaVu Sans',sans-serif" font-weight="bold" fill="#000">
<text x="155.9" y="824.4" text-anchor="end" font-size="8.8" letter-spacing="-1.25">100</text>
<text x="155.9" y="875.6" text-anchor="end" font-size="8.8" letter-spacing="-1.25">80</text>
<text x="155.9" y="926.8" text-anchor="end" font-size="8.8" letter-spacing="-1.25">60</text>
<text x="155.9" y="978.0" text-anchor="end" font-size="8.8" letter-spacing="-1.25">40</text>
<text x="155.9" y="1029.2" text-anchor="end" font-size="8.8" letter-spacing="-1.25">20</text>
<text x="155.9" y="1080.4" text-anchor="end" font-size="8.8" letter-spacing="-1.25">0</text>
<clipPath id="cpy"><rect x="105" y="907.6" width="30" height="100"/></clipPath>
<g clip-path="url(#cpy)"><text transform="translate(122.7,985.7) rotate(-90)" font-size="12.2" letter-spacing="-1.95" word-spacing="3.3">survival ratio %</text></g>
<text x="211.6" y="1088.6" text-anchor="middle" font-size="9.1" letter-spacing="-0.9"><tspan font-family="'Noto Sans CJK TC','Noto Sans CJK SC',sans-serif" font-size="10" letter-spacing="0.1">子宮頸癌</tspan>(HeLa cell)</text>
<text x="322.4" y="1088.6" text-anchor="middle" font-size="9.1" letter-spacing="-0.9"><tspan font-family="'Noto Sans CJK TC','Noto Sans CJK SC',sans-serif" font-size="10" letter-spacing="0.1">胃癌</tspan>(AGS cell)</text>
<text x="433.2" y="1088.6" text-anchor="middle" font-size="9.1" letter-spacing="-0.9"><tspan font-family="'Noto Sans CJK TC','Noto Sans CJK SC',sans-serif" font-size="10" letter-spacing="0.1">肺癌</tspan>(A549 cell)</text>
<text x="544.0" y="1088.6" text-anchor="middle" font-size="9.1" letter-spacing="-0.9"><tspan font-family="'Noto Sans CJK TC','Noto Sans CJK SC',sans-serif" font-size="10" letter-spacing="0.1">肝癌</tspan>(Hep G2 cell)</text>
<text x="654.8" y="1088.6" text-anchor="middle" font-size="9.1" letter-spacing="-0.9"><tspan font-family="'Noto Sans CJK TC','Noto Sans CJK SC',sans-serif" font-size="10" letter-spacing="0.1">乳癌</tspan>(MCF-7 cell)</text>
</g>
<rect x="692.6" y="839.2" width="130.1" height="122.2" fill="#fff" stroke="#b9b9b9" stroke-width="0.9"/>
<g font-family="'DejaVu Sans',sans-serif" font-weight="bold" font-size="17.3" letter-spacing="-2.7" word-spacing="4" fill="#000">
<rect x="713.3" y="849.2" width="12.4" height="12.2" fill="#9999ff" stroke="#101010" stroke-width="1.4"/>
<text x="730.6" y="864.2">0.2µ g/ml</text>
<rect x="713.3" y="879.7" width="12.4" height="12.2" fill="#ccffff" stroke="#101010" stroke-width="1.4"/>
<text x="730.6" y="894.8">0.5µ g/ml</text>
<rect x="713.3" y="910.2" width="12.4" height="12.2" fill="#8ec21a" stroke="#101010" stroke-width="1.4"/>
<text x="730.6" y="925.3">1µ g/ml</text>
<rect x="713.3" y="940.7" width="12.4" height="12.2" fill="#ffc000" stroke="#101010" stroke-width="1.4"/>
<text x="730.6" y="955.9">2µ g/ml</text>
</g>
</svg>
<!-- /CHART2 -->

<div class="abs cap" style="left:185px;top:1121px;font-size:22.35px;line-height:30px;">圖二 固態栽培樟芝萃取液對人類癌細胞抑殺活性實驗</div>

<!-- footer -->
<div class="abs" style="left:589.2px;top:1246px;font-size:14.4px;line-height:20px;font-family:'Noto Serif CJK SC',serif;word-spacing:3.1px;">第 <span style="font-family:'Liberation Sans',sans-serif">2</span> 页 共 <span style="font-family:'Liberation Sans',sans-serif">6</span> 页</div>
</body>
</html>
